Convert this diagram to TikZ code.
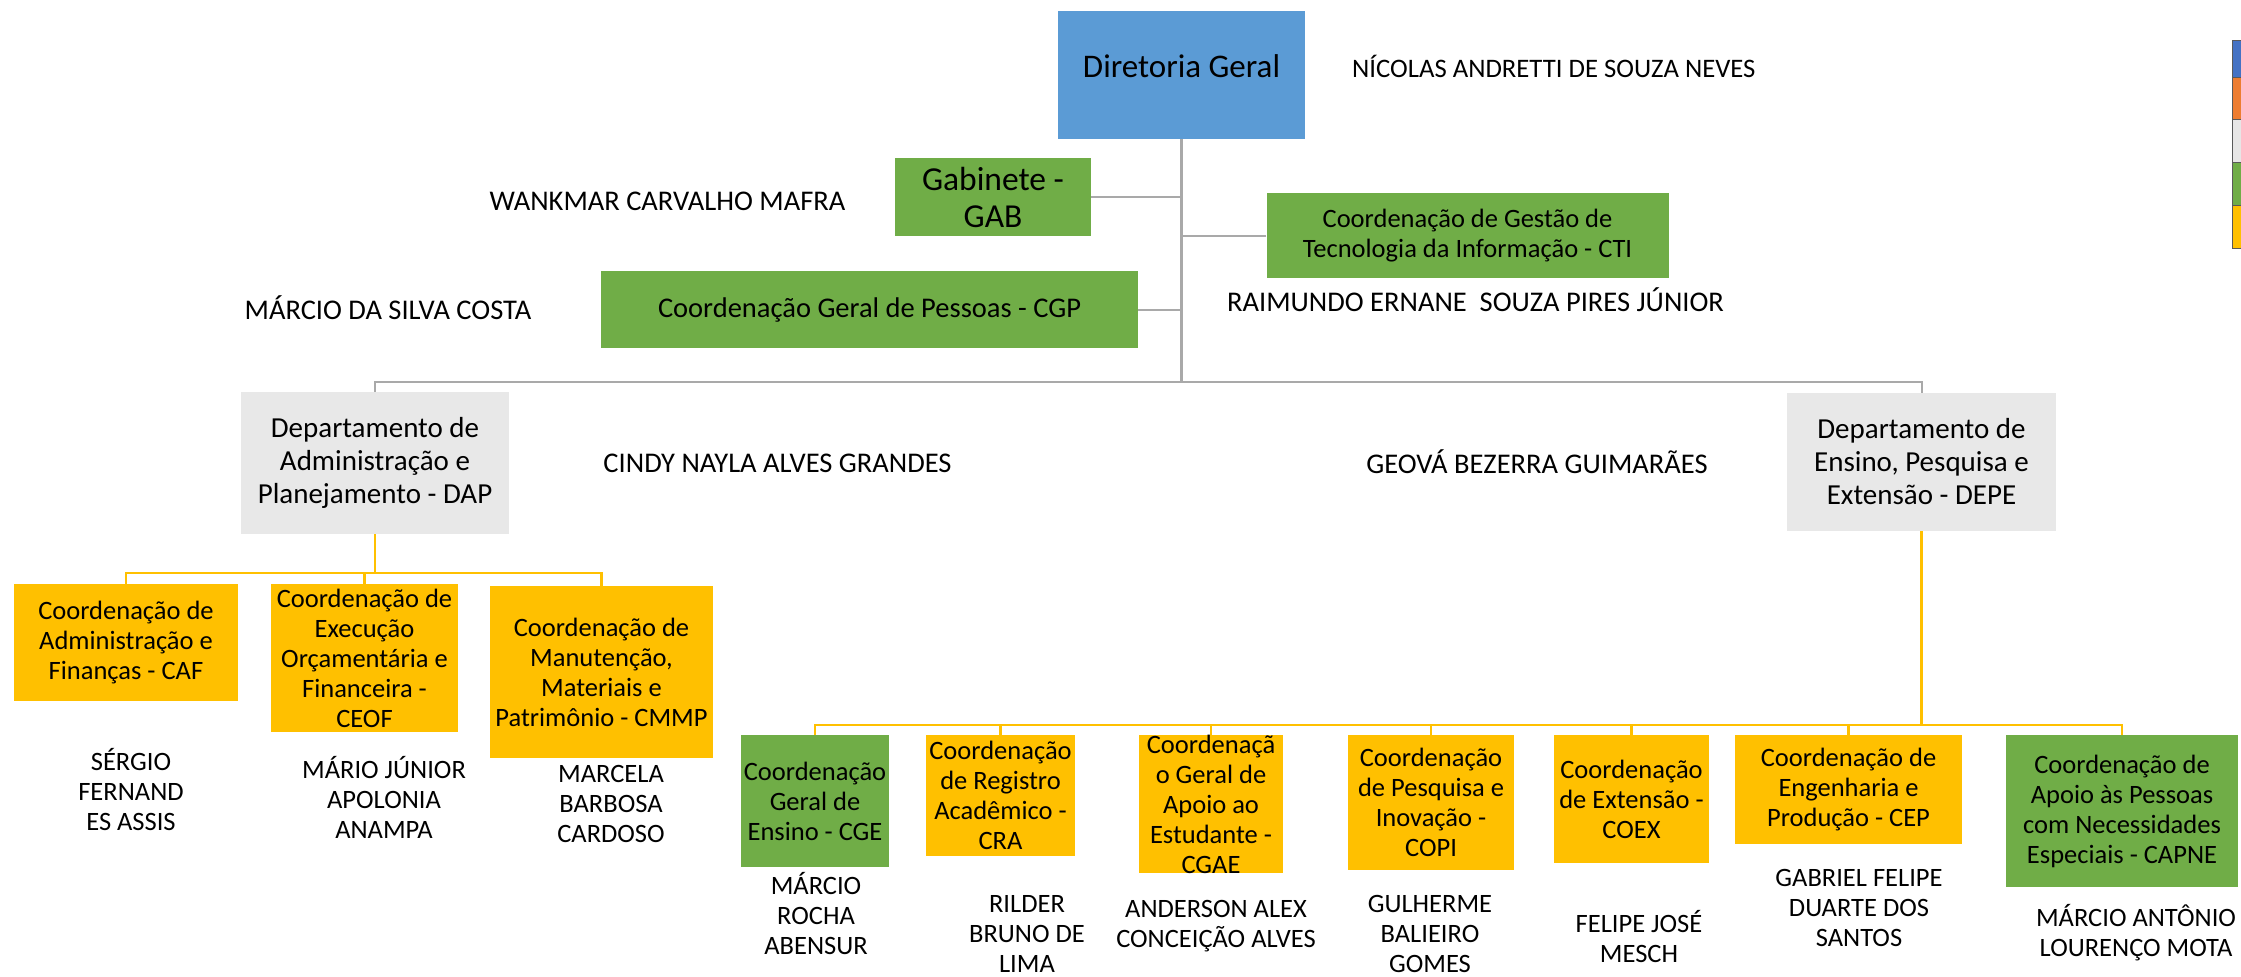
\documentclass[tikz,border=0pt]{standalone}
\usepackage{fontspec}
\setmainfont{Carlito}
\definecolor{dgblue}{HTML}{5B9BD5}
\definecolor{cgreen}{HTML}{70AD47}
\definecolor{cyellow}{HTML}{FFC000}
\definecolor{dgray}{HTML}{E8E8E8}
\definecolor{lgray}{HTML}{A9A9A9}
\definecolor{legblue}{HTML}{4472C4}
\definecolor{legorange}{HTML}{ED7D31}
\definecolor{leggray}{HTML}{E7E6E6}
\begin{document}
\begin{tikzpicture}[x=1pt,y=-1pt,
  box/.style={inner sep=0pt, align=center, text=black, font=\fontsize{26.5}{30}\selectfont},
  gbox/.style={box, fill=cgreen},
  ybox/.style={box, fill=cyellow},
  dbox/.style={box, fill=dgray, font=\fontsize{29}{33}\selectfont},
  pname/.style={inner sep=0pt, align=center, text=black, font=\fontsize{28.5}{33}\selectfont},
  sname/.style={inner sep=0pt, align=center, text=black, font=\fontsize{26.5}{30}\selectfont},
  gline/.style={draw=lgray, line width=2pt},
  yline/.style={draw=cyellow, line width=2.5pt}]
\useasboundingbox (0,0) rectangle (2241,977);
% top level
\node[box, fill=dgblue, minimum width=247pt, minimum height=128pt, text height=24pt, text depth=20pt, font=\fontsize{33}{40}\selectfont] (dg) at (1181.5,75) {Diretoria Geral};
\node[gbox, minimum width=196pt, minimum height=78pt, font=\fontsize{33.5}{37}\selectfont] (gab) at (993,197) {Gabinete -\\GAB};
\node[gbox, minimum width=402pt, minimum height=85pt] (cti) at (1467.5,235.5) {Coordenação de Gestão de\\Tecnologia da Informação - CTI};
\node[gbox, minimum width=537pt, minimum height=77pt, font=\fontsize{28.5}{33}\selectfont] (cgp) at (869.5,309.5) {Coordenação Geral de Pessoas - CGP};
\node[dbox, minimum width=268pt, minimum height=142pt] (dap) at (375,463) {Departamento de\\Administração e\\Planejamento - DAP};
\node[dbox, minimum width=269pt, minimum height=138pt] (depe) at (1921.5,462) {Departamento de\\Ensino, Pesquisa e\\Extensão - DEPE};
% DAP children
\node[ybox, minimum width=224pt, minimum height=117pt] (caf) at (126,642.5) {Coordenação de\\Administração e\\Finanças - CAF};
\node[ybox, minimum width=187pt, minimum height=148pt] (ceof) at (364.5,658) {Coordenação de\\Execução\\Orçamentária e\\Financeira -\\CEOF};
\node[ybox, minimum width=223pt, minimum height=172pt] (cmmp) at (601.5,672) {Coordenação de\\Manutenção,\\Materiais e\\Patrimônio - CMMP};
% DEPE children
\node[gbox, minimum width=148pt, minimum height=132pt] (cge) at (815,801) {Coordenação\\Geral de\\Ensino - CGE};
\node[ybox, minimum width=149pt, minimum height=121pt] (cra) at (1000.5,795.5) {Coordenação\\de Registro\\Acadêmico -\\CRA};
\node[ybox, minimum width=144pt, minimum height=138pt] (cgae) at (1211,804) {Coordenaçã\\o Geral de\\Apoio ao\\Estudante -\\CGAE};
\node[ybox, minimum width=166pt, minimum height=135pt] (copi) at (1431,802.5) {Coordenação\\de Pesquisa e\\Inovação -\\COPI};
\node[ybox, minimum width=155pt, minimum height=128pt] (coex) at (1631.5,799) {Coordenação\\de Extensão -\\COEX};
\node[ybox, minimum width=227pt, minimum height=109pt] (cep) at (1848.5,789.5) {Coordenação de\\Engenharia e\\Produção - CEP};
\node[gbox, minimum width=232pt, minimum height=152pt] (capne) at (2122,811) {Coordenação de\\Apoio às Pessoas\\com Necessidades\\Especiais - CAPNE};
% names
\node[pname, anchor=west, font=\fontsize{26.7}{32}\selectfont] (ndg) at (1352,66) {NÍCOLAS ANDRETTI DE SOUZA NEVES};
\node[pname] (ngab) at (667.5,201) {WANKMAR CARVALHO MAFRA};
\node[pname] (ncgp) at (388,308) {MÁRCIO DA SILVA COSTA};
\node[pname] (ncti) at (1475.5,300) {RAIMUNDO ERNANE\ \ SOUZA PIRES JÚNIOR};
\node[pname] (ndap) at (777.5,463) {CINDY NAYLA ALVES GRANDES};
\node[pname] (ndepe) at (1537,462) {GEOVÁ BEZERRA GUIMARÃES};
\node[sname] (ncaf) at (131,790) {SÉRGIO\\FERNAND\\ES ASSIS};
\node[sname] (nceof) at (384,797) {MÁRIO JÚNIOR\\APOLONIA\\ANAMPA};
\node[sname] (ncmmp) at (611,804) {MARCELA\\BARBOSA\\CARDOSO};
\node[sname] (ncge) at (816,914) {MÁRCIO\\ROCHA\\ABENSUR};
\node[sname] (ncra) at (1027,934) {RILDER\\BRUNO DE\\LIMA};
\node[sname] (ncgae) at (1216,926) {ANDERSON ALEX\\CONCEIÇÃO ALVES};
\node[sname] (ncopi) at (1430,934) {GULHERME\\BALIEIRO\\GOMES};
\node[sname] (ncoex) at (1639,937) {FELIPE JOSÉ\\MESCH};
\node[sname] (ncep) at (1859,908) {GABRIEL FELIPE\\DUARTE DOS\\SANTOS};
\node[sname] (ncapne) at (2136,933) {MÁRCIO ANTÔNIO\\LOURENÇO MOTA};
% gray connectors
\coordinate (gbar) at (1181.5,382);
\draw[gline, line width=3pt] (dg.south) -- (gbar);
\draw[gline] (gab.east) -- (gab.east -| dg.south);
\draw[gline] (cti.west) -- (cti.west -| dg.south);
\draw[gline] (cgp.east) -- (cgp.east -| dg.south);
\draw[gline] (dap.north) |- (gbar) -| (depe.north);
% yellow connectors
\coordinate (ybar1) at (375,573);
\draw[yline] (dap.south) -- (ybar1);
\draw[yline] (caf.north) |- (ybar1) -| (cmmp.north);
\draw[yline] (ceof.north) -- (ceof.north |- ybar1);
\coordinate (ybar2) at (1921.5,725);
\draw[yline] (depe.south) -- (ybar2);
\draw[yline] (cge.north) |- (ybar2) -| (capne.north);
\foreach \n in {cra,cgae,copi,coex,cep} \draw[yline] (\n.north) -- (\n.north |- ybar2);
% legend strip
\foreach \c/\ya/\yb in {legblue/40/77, legorange/77/119, leggray/119/162, cgreen/162/205, cyellow/205/248}
  \draw[fill=\c, draw=black!65, line width=1pt] (2232,\ya) rectangle (2246,\yb);
\end{tikzpicture}
\end{document}
